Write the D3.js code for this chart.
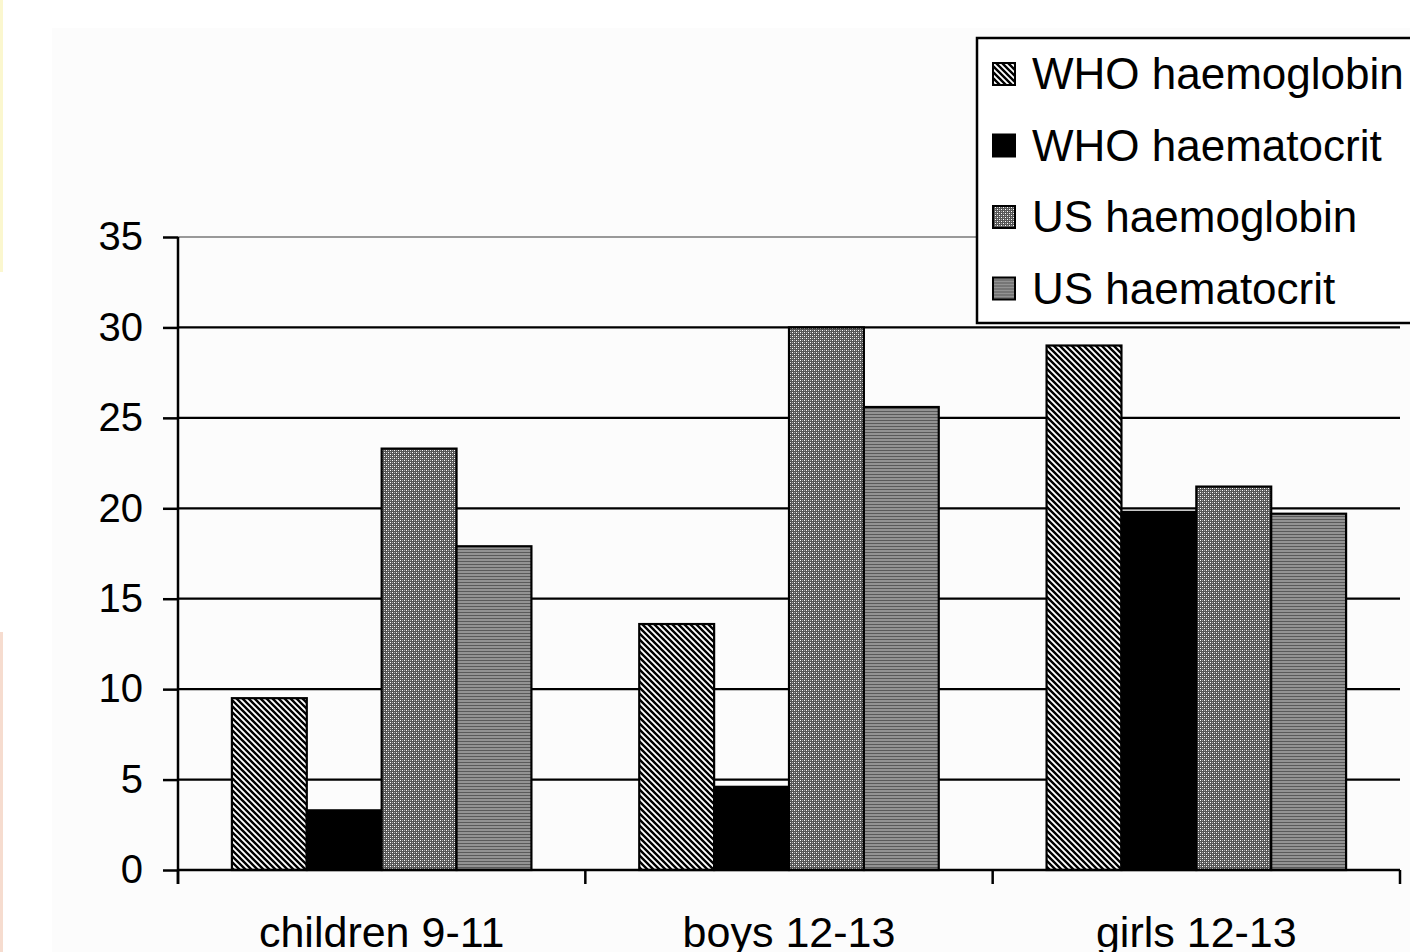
<!DOCTYPE html>
<html>
<head>
<meta charset="utf-8">
<script src="https://cdn.jsdelivr.net/npm/d3@7"></script>
<style>
  body { margin: 0; background: #fff; }
  svg { display: block; font-family: "Liberation Sans", Arial, sans-serif; }
</style>
</head>
<body>
<svg id="chart"></svg>
<script>
// data
var categories = ["children 9-11", "boys 12-13", "girls 12-13"];
var seriesNames = ["WHO haemoglobin", "WHO haematocrit", "US haemoglobin", "US haematocrit"];
var whoHaemoglobin = [9.5, 13.6, 29.0];
var whoHaematocrit = [3.3, 4.6, 19.8];
var usHaemoglobin = [23.3, 30.0, 21.2];
var usHaematocrit = [17.9, 25.6, 19.7];
var yTicks = [0, 5, 10, 15, 20, 25, 30, 35];

var seriesValues = [whoHaemoglobin, whoHaematocrit, usHaemoglobin, usHaematocrit];
var rows = [];
categories.forEach(function (c, i) {
  seriesNames.forEach(function (s, j) {
    rows.push({ cat: c, series: s, value: seriesValues[j][i] });
  });
});

var W = 1410, H = 952;
var mLeft = 178, mRight = 1400, mTop = 237, mBottom = 870;

var svg = d3.select("#chart").attr("width", W).attr("height", H);

// patterns
var defs = svg.append("defs");
var p1 = defs.append("pattern").attr("id", "pDiag").attr("patternUnits", "userSpaceOnUse")
  .attr("width", 6).attr("height", 6);
p1.append("rect").attr("width", 6).attr("height", 6).attr("fill", "#fff");
p1.append("path").attr("d", "M-1,-1 L7,7 M-4,2 L2,8 M4,-2 L8,2")
  .attr("stroke", "#000").attr("stroke-width", 2.4);

var p2 = defs.append("pattern").attr("id", "pCheck").attr("patternUnits", "userSpaceOnUse")
  .attr("width", 4).attr("height", 4);
p2.append("rect").attr("width", 4).attr("height", 4).attr("fill", "#555");
p2.append("rect").attr("x", 0).attr("y", 0).attr("width", 1).attr("height", 1).attr("fill", "#fff");
p2.append("rect").attr("x", 2).attr("y", 2).attr("width", 1).attr("height", 1).attr("fill", "#fff");
p2.append("rect").attr("x", 2).attr("y", 0).attr("width", 1).attr("height", 1).attr("fill", "#aaa");
p2.append("rect").attr("x", 0).attr("y", 2).attr("width", 1).attr("height", 1).attr("fill", "#aaa");

var p3 = defs.append("pattern").attr("id", "pHoriz").attr("patternUnits", "userSpaceOnUse")
  .attr("width", 4).attr("height", 3);
p3.append("rect").attr("width", 4).attr("height", 3).attr("fill", "#939393");
p3.append("rect").attr("y", 0).attr("width", 4).attr("height", 1).attr("fill", "#5a5a5a");

var fills = d3.scaleOrdinal().domain(seriesNames)
  .range(["url(#pDiag)", "#000", "url(#pCheck)", "url(#pHoriz)"]);

// screenshot leftovers at the far left edge
svg.append("rect").attr("x", 0).attr("y", 0).attr("width", 3).attr("height", 272).attr("fill", "#fbf7cf");
svg.append("rect").attr("x", 0).attr("y", 632).attr("width", 3).attr("height", 320).attr("fill", "#f6dccf");

// plot area background
svg.append("rect").attr("x", 52).attr("y", 28).attr("width", W - 52).attr("height", H - 28)
  .attr("fill", "#fcfcfc");

var x0 = d3.scaleBand().domain(categories).range([mLeft, mRight]).padding(0);
var x1 = d3.scaleBand().domain(seriesNames).range([0, x0.bandwidth()])
  .paddingInner(0).paddingOuter(0.72);
var y = d3.scaleLinear().domain([0, 35]).range([mBottom, mTop]);

// gridlines
svg.append("g").selectAll("line").data(yTicks.filter(function (d) { return d > 0; }))
  .join("line")
  .attr("x1", mLeft).attr("x2", mRight)
  .attr("y1", function (d) { return y(d); }).attr("y2", function (d) { return y(d); })
  .attr("stroke", function (d) { return d === 35 ? "#999" : "#000"; })
  .attr("stroke-width", 2.2);

// bars
svg.append("g").selectAll("rect").data(rows).join("rect")
  .attr("x", function (d) { return x0(d.cat) + x1(d.series); })
  .attr("y", function (d) { return y(d.value); })
  .attr("width", x1.bandwidth())
  .attr("height", function (d) { return y(0) - y(d.value); })
  .attr("fill", function (d) { return fills(d.series); })
  .attr("stroke", "#000").attr("stroke-width", 2.2);

// y axis
var yAxis = svg.append("g").attr("transform", "translate(" + mLeft + ",0)")
  .call(d3.axisLeft(y).tickValues(yTicks).tickSize(15).tickPadding(20).tickSizeOuter(0));
yAxis.select(".domain").attr("stroke", "#000").attr("stroke-width", 2.5)
  .attr("d", "M0," + mTop + "V" + (mBottom + 14));
yAxis.selectAll(".tick line").attr("stroke", "#000").attr("stroke-width", 2.5);
yAxis.selectAll(".tick text").attr("font-size", 40).attr("fill", "#000")
  .attr("font-family", "'Liberation Sans', Arial, sans-serif");

// x axis with ticks at category boundaries
var xAxis = svg.append("g").attr("transform", "translate(0," + mBottom + ")");
xAxis.append("line").attr("x1", mLeft).attr("x2", mRight).attr("stroke", "#000").attr("stroke-width", 2.5);
var bounds = categories.map(function (c) { return x0(c); }).concat([mRight]);
xAxis.selectAll("line.tk").data(bounds).join("line").attr("class", "tk")
  .attr("x1", function (d) { return d; }).attr("x2", function (d) { return d; })
  .attr("y1", 0).attr("y2", 14).attr("stroke", "#000").attr("stroke-width", 2.5);
xAxis.selectAll("text").data(categories).join("text")
  .attr("x", function (d) { return x0(d) + x0.bandwidth() / 2; })
  .attr("y", 77)
  .attr("text-anchor", "middle")
  .attr("font-size", 43)
  .text(function (d) { return d; });

// legend
var lg = svg.append("g").attr("transform", "translate(977,38)");
lg.append("rect").attr("width", 440).attr("height", 285)
  .attr("fill", "#fff").attr("stroke", "#000").attr("stroke-width", 2.5);
var items = lg.selectAll("g.item").data(seriesNames).join("g").attr("class", "item")
  .attr("transform", function (d, i) { return "translate(0," + (36 + i * 71.5) + ")"; });
items.append("rect").attr("x", 16).attr("y", -11).attr("width", 22).attr("height", 22)
  .attr("fill", function (d) { return fills(d); }).attr("stroke", "#000").attr("stroke-width", 2);
items.append("text").attr("x", 55).attr("y", 15).attr("font-size", 44)
  .text(function (d) { return d; });
</script>
</body>
</html>
